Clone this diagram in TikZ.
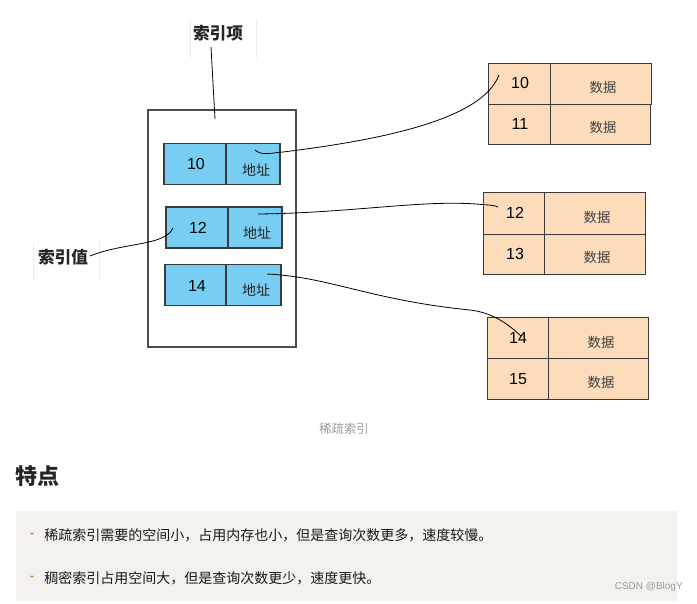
\documentclass[tikz,border=0pt]{standalone}
\usepackage{fontspec}
\setmainfont{Liberation Sans}
\newfontfamily\cjk{Noto Sans CJK SC}
\usetikzlibrary{calc}
\definecolor{cellblue}{HTML}{78CDF3}
\definecolor{peach}{HTML}{FDDCBB}
\definecolor{edgegray}{HTML}{3A3A3A}
\definecolor{boxbg}{HTML}{F4F2EF}
\definecolor{capgray}{HTML}{9A9A9A}
\definecolor{dashorange}{HTML}{D08A3C}
\definecolor{faint}{HTML}{ECECEC}
\tikzset{
  bcell/.style={draw=edgegray, fill=cellblue, line width=0.9pt, inner sep=0pt, minimum height=31pt},
  dcell/.style={draw=edgegray, fill=peach, line width=0.7pt, inner sep=0pt, minimum height=30.5pt},
  numtxt/.style={font=\fontsize{12}{12}\selectfont, text=black},
  addrtxt/.style={font=\cjk\fontsize{10.5}{10.5}\selectfont, text=black!85},
  datatxt/.style={font=\cjk\fontsize{10}{10}\selectfont, text=black!75},
  lbl/.style={font=\cjk\bfseries\fontsize{12.5}{12.5}\selectfont, text=black!85},
  bodytxt/.style={font=\cjk\fontsize{10.5}{10.5}\selectfont, text=black!90, anchor=west, inner sep=0pt},
  dashtxt/.style={font=\bfseries\fontsize{10}{10}\selectfont, text=dashorange},
  conn/.style={draw=black, line width=0.6pt},
  faintline/.style={draw=faint, line width=0.5pt}
}
\begin{document}
\begin{tikzpicture}[x=0.75pt,y=-0.75pt]
\useasboundingbox (0,0) rectangle (697,604);
\fill[white] (0,0) rectangle (697,604);

% labels with faint frames
\draw[faintline] (190,20) -- (190,58);
\draw[faintline] (256,20) -- (256,58);
\node[lbl] (lblitem) at (218,33) {索引项};
\draw[faintline] (33,242) -- (33,280);
\draw[faintline] (99,242) -- (99,280);
\node[lbl] (lblval) at (63,257) {索引值};

% container
\node[draw=black!70, line width=0.8pt, minimum width=111pt, minimum height=177.75pt, inner sep=0pt] (cont) at (222,228.5) {};

% index rows
\node[bcell, minimum width=46.5pt] (k10) at (195,164) {};
\node[numtxt] at (196,164) {10};
\node[bcell, minimum width=40.5pt] (a10) at (253,164) {};
\node[addrtxt] at (256,170) {地址};

\node[bcell, minimum width=46.5pt, minimum height=30.75pt] (k12) at (197,227.5) {};
\node[numtxt] at (198,228) {12};
\node[bcell, minimum width=40.5pt, minimum height=30.75pt] (a12) at (255,227.5) {};
\node[addrtxt] at (257,233) {地址};

\node[bcell, minimum width=45.75pt] (k14) at (195.5,285) {};
\node[numtxt] at (197,286) {14};
\node[bcell, minimum width=41.25pt] (a14) at (253.5,285) {};
\node[addrtxt] at (256,290) {地址};

% data block 1
\node[dcell, minimum width=46.5pt, minimum height=30.75pt] (d10) at (519,83.5) {};
\node[numtxt] at (520,83) {10};
\node[dcell, minimum width=75.75pt, minimum height=30.75pt] (e10) at (600.5,83.5) {};
\node[datatxt] at (603,87) {数据};
\node[dcell, minimum width=46.5pt, minimum height=30pt] (d11) at (519,124) {};
\node[numtxt] at (520,124) {11};
\node[dcell, minimum width=75pt, minimum height=30pt] (e11) at (600,124) {};
\node[datatxt] at (603,127) {数据};

% data block 2
\node[dcell, minimum width=45.75pt, minimum height=31.5pt] (d12) at (513.5,213) {};
\node[numtxt] at (515,213) {12};
\node[dcell, minimum width=75.75pt, minimum height=31.5pt] (e12) at (594.5,213) {};
\node[datatxt] at (597,217) {数据};
\node[dcell, minimum width=45.75pt, minimum height=30pt] (d13) at (513.5,254) {};
\node[numtxt] at (515,254) {13};
\node[dcell, minimum width=75.75pt, minimum height=30pt] (e13) at (594.5,254) {};
\node[datatxt] at (597,257) {数据};

% data block 3
\node[dcell, minimum width=45.75pt, minimum height=30.75pt] (d14) at (517.5,337.5) {};
\node[numtxt] at (518,338) {14};
\node[dcell, minimum width=75pt, minimum height=30.75pt] (e14) at (598,337.5) {};
\node[datatxt] at (601,342) {数据};
\node[dcell, minimum width=45.75pt, minimum height=30.75pt] (d15) at (517.5,378.5) {};
\node[numtxt] at (518,379) {15};
\node[dcell, minimum width=75pt, minimum height=30.75pt] (e15) at (598,378.5) {};
\node[datatxt] at (601,382) {数据};

% connector end points
\coordinate (itemS) at (211,47);
\coordinate (itemE) at (215,119);
\coordinate (valS) at (90,256);
\coordinate (valE) at (173,228);
\coordinate (c1s) at (255,150);
\coordinate (c1e) at (499,75);
\coordinate (c2s) at (258,214);
\coordinate (c2e) at (498,207);
\coordinate (c3s) at (267,274);
\coordinate (c3e) at (521,336);

\draw[conn] (itemS) -- (itemE);
\draw[conn] (valS) .. controls (125,242) and (165,246) .. (valE);
\draw[conn] (c1s) .. controls (262,156) and (270,153) .. (283,152)
  .. controls (380,140) and (482,120) .. (c1e);
\draw[conn] (c2s) .. controls (350,213) and (420,200) .. (476,204)
  .. controls (488,205) and (494,205) .. (c2e);
\draw[conn] (c3s) .. controls (330,277) and (370,300) .. (470,310)
  .. controls (495,313) and (510,326) .. (c3e);

% caption
\node[font=\cjk\fontsize{9.2}{9.2}\selectfont, text=capgray] (cap) at (344,429) {稀疏索引};

% heading
\node[font=\cjk\bfseries\fontsize{16.5}{16.5}\selectfont, text=black!85, anchor=west] (head) at (11,476) {特点};

% feature box
\fill[boxbg] (16,511) rectangle (677,601);
\node[dashtxt] (dash1) at (32,535) {-};
\node[bodytxt] (t1) at (44,535) {稀疏索引需要的空间小，占用内存也小，但是查询次数更多，速度较慢。};
\node[dashtxt] (dash2) at (32,578) {-};
\node[bodytxt] (t2) at (44,578) {稠密索引占用空间大，但是查询次数更少，速度更快。};
\node[font=\fontsize{7.5}{7.5}\selectfont, text=capgray, anchor=east, inner sep=0pt] (csdn) at (683,587) {CSDN @BlogY};
\end{tikzpicture}
\end{document}
